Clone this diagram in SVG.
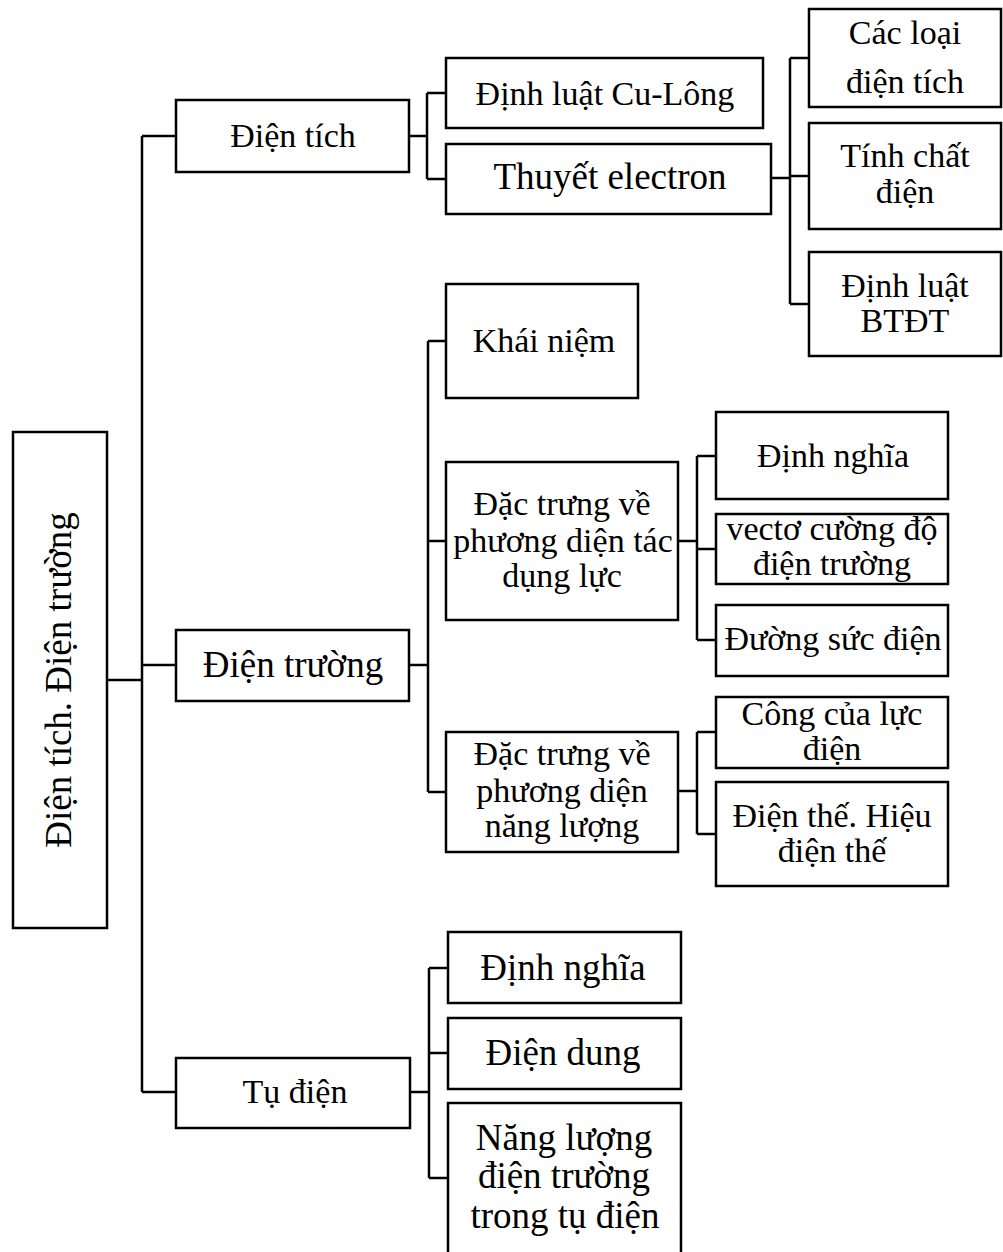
<svg xmlns="http://www.w3.org/2000/svg" width="1003" height="1252" viewBox="0 0 1003 1252">
<style>
.b{fill:#fff;stroke:#000;stroke-width:2.5}
.c{fill:none;stroke:#000;stroke-width:2.5}
text{font-family:"Liberation Serif","Times New Roman",serif;font-size:34px;fill:#000;text-anchor:middle}
.l{font-size:37px}
</style>
<rect width="1003" height="1252" fill="#fff"/>
<g id="connectors">
<path class="c" d="M107,680H142M142,136V1092M142,136H176M142,665H176M142,1092H176"/>
<path class="c" d="M409,136H427M427,93V179M427,93H446M427,179H446"/>
<path class="c" d="M771,178H790M790,58V304M790,58H809M790,176H809M790,304H809"/>
<path class="c" d="M409,665H428M428,341V792M428,341H446M428,541H446M428,792H446"/>
<path class="c" d="M678,541H697M697,456V640M697,456H716M697,549H716M697,640H716"/>
<path class="c" d="M678,791H697M697,732V834M697,732H716M697,834H716"/>
<path class="c" d="M410,1092H429M429,968V1178M429,968H448M429,1053H448M429,1178H448"/>
</g>
<g id="root"><rect class="b" x="13" y="432" width="94" height="496"/>
<text class="l" transform="translate(71,680) rotate(-90)">Điện tích. Điện trường</text></g>
<g id="dien-tich"><rect class="b" x="176" y="100" width="233" height="72"/><text x="293" y="147">Điện tích</text></g>
<g id="dien-truong"><rect class="b" x="176" y="630" width="233" height="71"/><text class="l" x="293" y="677">Điện trường</text></g>
<g id="tu-dien"><rect class="b" x="176" y="1058" width="234" height="70"/><text x="295" y="1103">Tụ điện</text></g>
<g id="cu-long"><rect class="b" x="446" y="58" width="317" height="70"/><text x="605" y="105">Định luật Cu-Lông</text></g>
<g id="thuyet-electron"><rect class="b" x="446" y="144" width="325" height="70"/><text class="l" x="610" y="189">Thuyết electron</text></g>
<g id="cac-loai"><rect class="b" x="809" y="9" width="192" height="98"/><text x="905" y="44">Các loại</text><text x="905" y="93">điện tích</text></g>
<g id="tinh-chat"><rect class="b" x="809" y="123" width="192" height="106"/><text x="905" y="167">Tính chất</text><text x="905" y="203">điện</text></g>
<g id="btdt"><rect class="b" x="809" y="252" width="192" height="104"/><text x="905" y="297">Định luật</text><text x="905" y="332">BTĐT</text></g>
<g id="khai-niem"><rect class="b" x="446" y="284" width="192" height="114"/><text x="544" y="352">Khái niệm</text></g>
<g id="dac-trung-1"><rect class="b" x="446" y="462" width="232" height="158"/><text x="562" y="515">Đặc trưng về</text><text x="563" y="552">phương diện tác</text><text x="562" y="587">dụng lực</text></g>
<g id="dac-trung-2"><rect class="b" x="446" y="732" width="232" height="120"/><text x="562" y="765">Đặc trưng về</text><text x="562" y="802">phương diện</text><text x="562" y="837">năng lượng</text></g>
<g id="dinh-nghia-1"><rect class="b" x="716" y="412" width="232" height="87"/><text x="833" y="467">Định nghĩa</text></g>
<g id="vecto"><rect class="b" x="716" y="514" width="232" height="70"/><text x="832" y="540">vectơ cường độ</text><text x="832" y="575">điện trường</text></g>
<g id="duong-suc"><rect class="b" x="716" y="605" width="232" height="71"/><text x="833" y="650">Đường sức điện</text></g>
<g id="cong"><rect class="b" x="716" y="697" width="232" height="71"/><text x="832" y="725">Công của lực</text><text x="832" y="760">điện</text></g>
<g id="dien-the"><rect class="b" x="716" y="782" width="232" height="104"/><text x="832" y="827">Điện thế. Hiệu</text><text x="832" y="862">điện thế</text></g>
<g id="dinh-nghia-2"><rect class="b" x="448" y="932" width="233" height="71"/><text class="l" x="563" y="980">Định nghĩa</text></g>
<g id="dien-dung"><rect class="b" x="448" y="1018" width="233" height="71"/><text class="l" x="563" y="1065">Điện dung</text></g>
<g id="nang-luong"><rect class="b" x="448" y="1103" width="233" height="152"/><text class="l" x="564" y="1150">Năng lượng</text><text class="l" x="564" y="1188">điện trường</text><text class="l" x="565" y="1228">trong tụ điện</text></g>
</svg>
